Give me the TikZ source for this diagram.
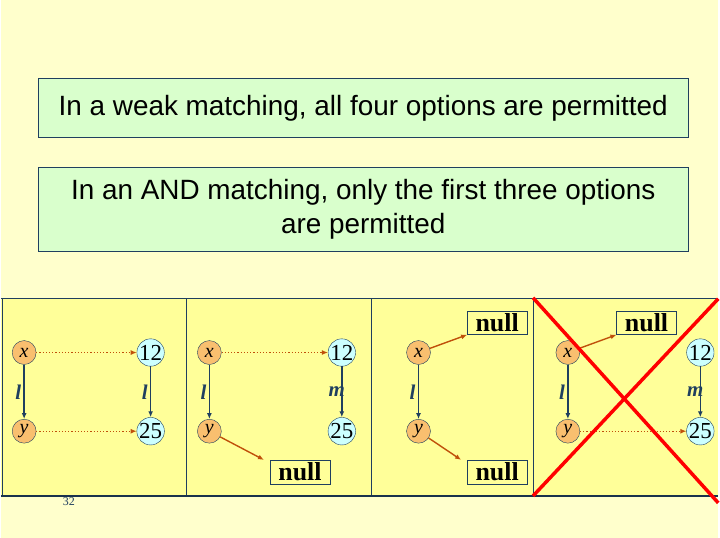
\documentclass[tikz,border=0pt]{standalone}
\usepackage{fontspec}
\setmainfont{Liberation Serif}
\newfontfamily\arialf{Liberation Sans}
\usetikzlibrary{arrows.meta}
\definecolor{bgc}{HTML}{FFFFCC}
\definecolor{panelc}{HTML}{FFFF99}
\definecolor{boxc}{HTML}{D9FFCC}
\definecolor{orc}{HTML}{F9BF6F}
\definecolor{cyc}{HTML}{CCFFFF}
\definecolor{navy}{HTML}{1F3F5F}
\definecolor{brn}{HTML}{C0500A}
\begin{document}
\begin{tikzpicture}[x=1pt,y=-1pt,
  vx/.style={circle,draw=navy,fill=orc,minimum size=24pt,inner sep=0pt,font=\fontsize{20}{20}\selectfont\itshape},
  vn/.style={circle,draw=navy,fill=cyc,minimum size=24pt,inner sep=0pt,font=\fontsize{23}{23}\selectfont},
  nullbox/.style={draw=navy,fill=panelc,minimum width=60pt,minimum height=24pt,inner sep=0pt,font=\fontsize{26}{26}\selectfont\bfseries},
  ed/.style={draw=navy,line width=1.4pt,-{Latex[length=6pt,width=5pt]}},
  lab/.style={font=\fontsize{21}{21}\selectfont\bfseries\itshape,text=navy},
  dot/.style={draw=brn,line width=1.2pt,dotted,-{Latex[length=6pt,width=5pt]}},
  sol/.style={draw=brn,line width=1.4pt,-{Latex[length=6pt,width=5pt]}},
  txtbox/.style={draw=navy,fill=boxc,minimum width=653pt,inner sep=0pt,align=center,font=\arialf\fontsize{28}{34}\selectfont}]
\fill[bgc] (0,0) rectangle (720,540);
\node[txtbox,minimum height=59pt] (t1) at (363.5,108.5) {In a weak matching, all four options are permitted};
\node[txtbox,minimum height=84pt] (t2) at (363.5,210) {In an AND matching, only the first three options\\are permitted};
% panels
\fill[panelc] (0,300) rectangle (720,498);
\draw[navy,line width=0.8pt] (0,300) -- (720,300);
\draw[navy,line width=0.8pt] (1,300) -- (1,498);
\foreach \xx in {186,372,534} \draw[navy,line width=0.8pt] (\xx,300) -- (\xx,498);
\draw[navy!80!black,line width=2.5pt] (0,498) -- (720,498);
% panel 1
\node[vx] (x1) at (23,354) {x};
\node[vx] (y1) at (23,433) {y};
\node[vn] (a1) at (150,354) {12};
\node[vn] (b1) at (150,433) {25};
\draw[ed] (x1) -- node[lab,left=-1pt] {l} (y1);
\draw[ed] (a1) -- node[lab,left=-1pt] {l} (b1);
\draw[dot] (x1) -- (a1);
\draw[dot] (y1) -- (b1);
% panel 2
\node[vx] (x2) at (209,354) {x};
\node[vx] (y2) at (209,433) {y};
\node[vn] (a2) at (342,354) {12};
\node[vn] (b2) at (342,433) {25};
\draw[ed] (x2) -- node[lab,left=-1pt] {l} (y2);
\draw[ed] (a2) -- node[lab,left=-7pt] {m} (b2);
\draw[dot] (x2) -- (a2);
\node[nullbox] (n2) at (300,474) {null};
\draw[sol] (y2) -- ([xshift=-6pt]n2.north west);
% panel 3
\node[vx] (x3) at (419,354) {x};
\node[vx] (y3) at (419,433) {y};
\draw[ed] (x3) -- node[lab,left=-1pt] {l} (y3);
\node[nullbox] (n3a) at (498,324) {null};
\node[nullbox] (n3b) at (498,474) {null};
\draw[sol] (x3) -- (n3a.south west);
\draw[sol] (y3) -- ([xshift=-6pt]n3b.north west);
% panel 4
\node[vx] (x4) at (569,354) {x};
\node[vx] (y4) at (569,433) {y};
\node[vn] (a4) at (702,354) {12};
\node[vn] (b4) at (702,433) {25};
\draw[ed] (x4) -- node[lab,left=-1pt] {l} (y4);
\draw[ed] (a4) -- node[lab,left=-7pt] {m} (b4);
\node[nullbox] (n4) at (648,324) {null};
\draw[sol] (x4) -- (n4.south west);
\draw[dot] (y4) -- (b4);
\coordinate (c1) at (534,299);
\coordinate (c2) at (720,505);
\coordinate (c3) at (534,498);
\coordinate (c4) at (720,300);
\draw[red,line width=3.5pt] (c1) -- (c2);
\draw[red,line width=3.5pt] (c3) -- (c4);
\node[font=\fontsize{12}{12}\selectfont,text=navy] (pg) at (68,504) {32};
\end{tikzpicture}
\end{document}
